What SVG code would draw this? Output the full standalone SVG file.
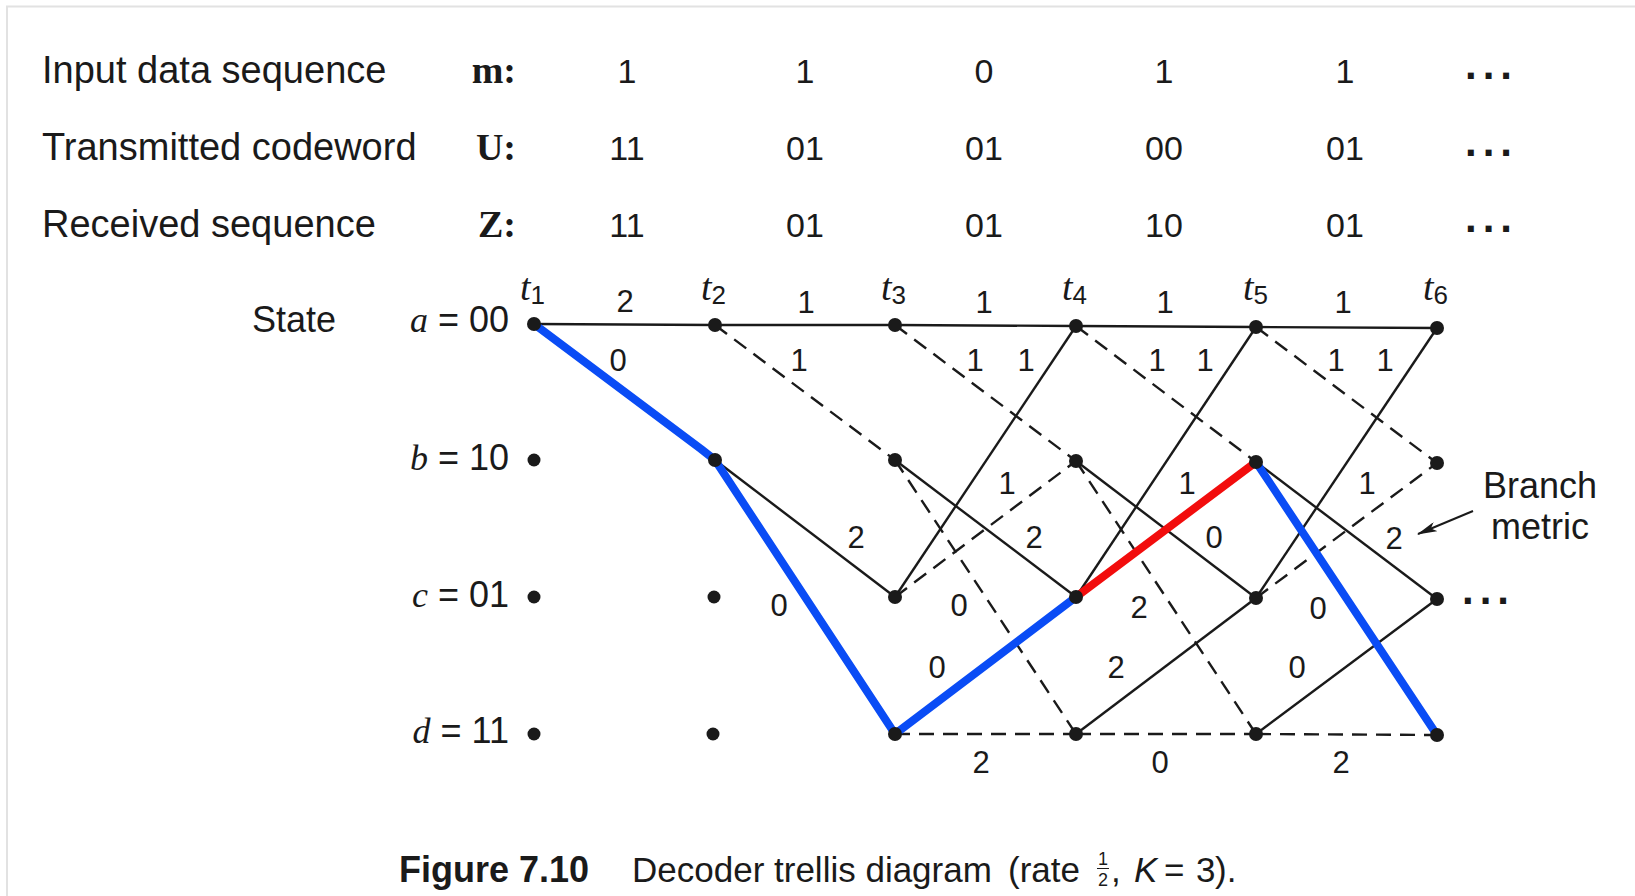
<svg xmlns="http://www.w3.org/2000/svg" width="1635" height="896" viewBox="0 0 1635 896">
<defs>
<style>
.lbl{font-family:"Liberation Sans",Arial,sans-serif;font-size:38px;fill:#1a1a1a}
.key{font-family:"Liberation Serif","Times New Roman",serif;font-size:38px;font-weight:bold;fill:#1a1a1a}
.val{font-family:"Liberation Sans",Arial,sans-serif;font-size:34px;fill:#1a1a1a;text-anchor:middle}
.dots{font-family:"Liberation Sans",Arial,sans-serif;font-size:42px;font-weight:bold;fill:#1a1a1a;letter-spacing:6px}
.st{font-family:"Liberation Sans",Arial,sans-serif;font-size:36px;fill:#1a1a1a}
.it{font-family:"Liberation Serif","Times New Roman",serif;font-style:italic}
.tl{font-family:"Liberation Serif","Times New Roman",serif;font-style:italic;font-size:38px;fill:#1a1a1a}
.sub{font-family:"Liberation Sans",Arial,sans-serif;font-style:normal;font-size:26px}
.bm{font-family:"Liberation Sans",Arial,sans-serif;font-size:31px;fill:#1a1a1a;text-anchor:middle}
.cap{font-family:"Liberation Sans",Arial,sans-serif;font-size:35px;fill:#1a1a1a}
.capb{font-family:"Liberation Sans",Arial,sans-serif;font-size:36px;font-weight:bold;fill:#1a1a1a}
.frac{font-family:"Liberation Sans",Arial,sans-serif;font-size:18px;fill:#1a1a1a;text-anchor:middle}
.solid{stroke:#1a1a1a;stroke-width:2.4;fill:none}
.dash{stroke:#1a1a1a;stroke-width:2.4;fill:none;stroke-dasharray:15 9}
.blue{stroke:#0a4cf5;stroke-width:8;fill:none;stroke-linecap:round;stroke-linejoin:round}
.red{stroke:#f20d0d;stroke-width:8;fill:none;stroke-linecap:round}
.node{fill:#1a1a1a}
</style>
<marker id="ah" viewBox="0 0 20 10" refX="19" refY="5" markerWidth="20" markerHeight="10" markerUnits="userSpaceOnUse" orient="auto">
<path d="M0,0 L20,5 L0,10 L5,5 Z" fill="#1a1a1a"/>
</marker>
</defs>
<rect width="1635" height="896" fill="#ffffff"/>
<path d="M7,896 V6.5 H1635" stroke="#e2e2e2" stroke-width="2" fill="none"/>

<g id="header">
<text class="lbl" x="42" y="83">Input data sequence</text>
<text class="lbl" x="42" y="160">Transmitted codeword</text>
<text class="lbl" x="42" y="237">Received sequence</text>
<text class="key" x="516" y="83" text-anchor="end">m:</text>
<text class="key" x="516" y="160" text-anchor="end">U:</text>
<text class="key" x="516" y="237" text-anchor="end">Z:</text>
<text class="val" x="627" y="83">1</text>
<text class="val" x="805" y="83">1</text>
<text class="val" x="984" y="83">0</text>
<text class="val" x="1164" y="83">1</text>
<text class="val" x="1345" y="83">1</text>
<text class="val" x="627" y="160">11</text>
<text class="val" x="805" y="160">01</text>
<text class="val" x="984" y="160">01</text>
<text class="val" x="1164" y="160">00</text>
<text class="val" x="1345" y="160">01</text>
<text class="val" x="627" y="237">11</text>
<text class="val" x="805" y="237">01</text>
<text class="val" x="984" y="237">01</text>
<text class="val" x="1164" y="237">10</text>
<text class="val" x="1345" y="237">01</text>
<text class="dots" x="1465" y="79">...</text>
<text class="dots" x="1465" y="156">...</text>
<text class="dots" x="1465" y="232">...</text>
</g>

<g id="state-labels">
<text class="st" x="252" y="332">State</text>
<text class="st" x="509" y="332" text-anchor="end"><tspan class="it">a</tspan> = 00</text>
<text class="st" x="509" y="470" text-anchor="end"><tspan class="it">b</tspan> = 10</text>
<text class="st" x="509" y="607" text-anchor="end"><tspan class="it">c</tspan> = 01</text>
<text class="st" x="509" y="743" text-anchor="end"><tspan class="it">d</tspan> = 11</text>
</g>

<g id="time-labels">
<text class="tl" x="520" y="300">t<tspan class="sub" dy="4">1</tspan></text>
<text class="tl" x="701" y="300">t<tspan class="sub" dy="4">2</tspan></text>
<text class="tl" x="881" y="300">t<tspan class="sub" dy="4">3</tspan></text>
<text class="tl" x="1062" y="300">t<tspan class="sub" dy="4">4</tspan></text>
<text class="tl" x="1243" y="300">t<tspan class="sub" dy="4">5</tspan></text>
<text class="tl" x="1423" y="300">t<tspan class="sub" dy="4">6</tspan></text>
</g>

<g id="connectors">
<!-- t1 -> t2 -->
<line class="solid" x1="534" y1="324" x2="715" y2="325"/>
<line class="dash" x1="534" y1="324" x2="715" y2="460"/>
<!-- t2 -> t3 -->
<line class="solid" x1="715" y1="325" x2="895" y2="325"/>
<line class="dash" x1="715" y1="325" x2="895" y2="460"/>
<line class="solid" x1="715" y1="460" x2="895" y2="597"/>
<line class="dash" x1="715" y1="460" x2="895" y2="734"/>
<!-- t3 -> t4 -->
<line class="solid" x1="895" y1="325" x2="1076" y2="326"/>
<line class="dash" x1="895" y1="325" x2="1076" y2="461"/>
<line class="solid" x1="895" y1="460" x2="1076" y2="597"/>
<line class="dash" x1="895" y1="460" x2="1076" y2="734"/>
<line class="solid" x1="895" y1="597" x2="1076" y2="326"/>
<line class="dash" x1="895" y1="597" x2="1076" y2="461"/>
<line class="solid" x1="895" y1="734" x2="1076" y2="597"/>
<line class="dash" x1="895" y1="734" x2="1076" y2="734"/>
<!-- t4 -> t5 -->
<line class="solid" x1="1076" y1="326" x2="1256" y2="327"/>
<line class="dash" x1="1076" y1="326" x2="1256" y2="462"/>
<line class="solid" x1="1076" y1="461" x2="1256" y2="598"/>
<line class="dash" x1="1076" y1="461" x2="1256" y2="734"/>
<line class="solid" x1="1076" y1="597" x2="1256" y2="327"/>
<line class="dash" x1="1076" y1="597" x2="1256" y2="462"/>
<line class="solid" x1="1076" y1="734" x2="1256" y2="598"/>
<line class="dash" x1="1076" y1="734" x2="1256" y2="734"/>
<!-- t5 -> t6 -->
<line class="solid" x1="1256" y1="327" x2="1437" y2="328"/>
<line class="dash" x1="1256" y1="327" x2="1437" y2="463"/>
<line class="solid" x1="1256" y1="462" x2="1437" y2="599"/>
<line class="dash" x1="1256" y1="462" x2="1437" y2="735"/>
<line class="solid" x1="1256" y1="598" x2="1437" y2="328"/>
<line class="dash" x1="1256" y1="598" x2="1437" y2="463"/>
<line class="solid" x1="1256" y1="734" x2="1437" y2="599"/>
<line class="dash" x1="1256" y1="734" x2="1437" y2="735"/>
<!-- highlighted path -->
<polyline class="blue" points="534,324 701,449 715,460 895,734 1076,597"/>
<line class="red" x1="1076" y1="597" x2="1256" y2="462"/>
<line class="blue" x1="1256" y1="462" x2="1437" y2="735"/>
<!-- branch metric pointer -->
<line x1="1473" y1="511" x2="1418" y2="534" stroke="#1a1a1a" stroke-width="2" marker-end="url(#ah)"/>
</g>

<g id="nodes">
<circle class="node" cx="534" cy="324" r="7"/>
<circle class="node" cx="534" cy="460" r="6.5"/>
<circle class="node" cx="534" cy="597" r="6.5"/>
<circle class="node" cx="534" cy="734" r="6.5"/>
<circle class="node" cx="715" cy="325" r="7"/>
<circle class="node" cx="715" cy="460" r="7"/>
<circle class="node" cx="714" cy="597" r="6.5"/>
<circle class="node" cx="713" cy="734" r="6.5"/>
<circle class="node" cx="895" cy="325" r="7"/>
<circle class="node" cx="895" cy="460" r="7"/>
<circle class="node" cx="895" cy="597" r="7"/>
<circle class="node" cx="895" cy="734" r="7"/>
<circle class="node" cx="1076" cy="326" r="7"/>
<circle class="node" cx="1076" cy="461" r="7"/>
<circle class="node" cx="1076" cy="597" r="7"/>
<circle class="node" cx="1076" cy="734" r="7"/>
<circle class="node" cx="1256" cy="327" r="7"/>
<circle class="node" cx="1256" cy="462" r="7"/>
<circle class="node" cx="1256" cy="598" r="7"/>
<circle class="node" cx="1256" cy="734" r="7"/>
<circle class="node" cx="1437" cy="328" r="7"/>
<circle class="node" cx="1437" cy="463" r="7"/>
<circle class="node" cx="1437" cy="599" r="7"/>
<circle class="node" cx="1437" cy="735" r="7"/>
</g>

<g id="branch-metrics">
<text class="bm" x="625" y="312">2</text>
<text class="bm" x="806" y="313">1</text>
<text class="bm" x="984" y="313">1</text>
<text class="bm" x="1165" y="313">1</text>
<text class="bm" x="1343" y="313">1</text>
<text class="bm" x="618" y="371">0</text>
<text class="bm" x="799" y="371">1</text>
<text class="bm" x="975" y="371">1</text>
<text class="bm" x="1026" y="371">1</text>
<text class="bm" x="1157" y="371">1</text>
<text class="bm" x="1205" y="371">1</text>
<text class="bm" x="1336" y="371">1</text>
<text class="bm" x="1385" y="371">1</text>
<text class="bm" x="1007" y="494">1</text>
<text class="bm" x="1187" y="494">1</text>
<text class="bm" x="1367" y="494">1</text>
<text class="bm" x="856" y="548">2</text>
<text class="bm" x="1034" y="548">2</text>
<text class="bm" x="1214" y="548">0</text>
<text class="bm" x="1394" y="549">2</text>
<text class="bm" x="779" y="616">0</text>
<text class="bm" x="959" y="616">0</text>
<text class="bm" x="1139" y="618">2</text>
<text class="bm" x="1318" y="619">0</text>
<text class="bm" x="937" y="678">0</text>
<text class="bm" x="1116" y="678">2</text>
<text class="bm" x="1297" y="678">0</text>
<text class="bm" x="981" y="773">2</text>
<text class="bm" x="1160" y="773">0</text>
<text class="bm" x="1341" y="773">2</text>
</g>

<g id="annotation">
<text class="st" x="1540" y="498" text-anchor="middle">Branch</text>
<text class="st" x="1540" y="539" text-anchor="middle">metric</text>
<text class="dots" x="1462" y="604">...</text>
</g>

<g id="caption">
<text class="capb" x="399" y="882">Figure 7.10</text>
<text class="cap" x="632" y="882">Decoder trellis diagram</text>
<text class="cap" x="1008" y="882">(rate</text>
<text class="frac" x="1103" y="865">1</text>
<line x1="1097" y1="868.5" x2="1109" y2="868.5" stroke="#1a1a1a" stroke-width="1"/>
<text class="frac" x="1103" y="886">2</text>
<text class="cap" x="1111" y="882">,</text>
<text class="cap" x="1134" y="882" font-style="italic">K</text>
<text class="cap" x="1164" y="882">=</text>
<text class="cap" x="1196" y="882">3</text>
<text class="cap" x="1215" y="882">).</text>
</g>
</svg>
